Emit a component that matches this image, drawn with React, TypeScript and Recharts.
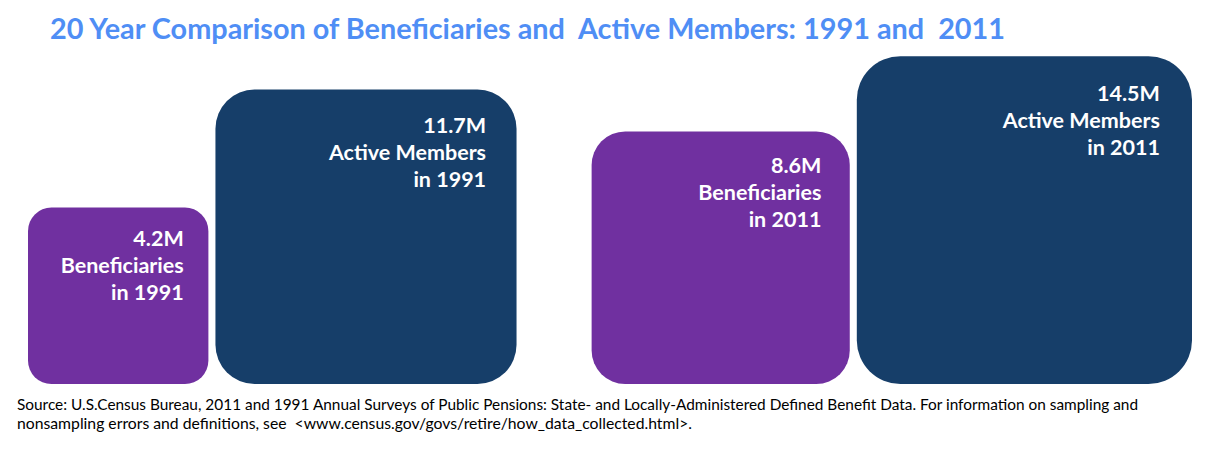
import * as React from "react"
import { ScatterChart, Scatter, XAxis, YAxis, ZAxis } from "recharts"

// values in millions
const values = [4.2, 11.7, 8.6, 14.5]
const valueLabels = ["4.2M", "11.7M", "8.6M", "14.5M"]
const groups = ["Beneficiaries", "Active Members", "Beneficiaries", "Active Members"]
const years = ["1991", "1991", "2011", "2011"]

const TITLE = "20 Year Comparison of Beneficiaries and  Active Members: 1991 and  2011"
const SOURCE_1 =
  "Source: U.S.Census Bureau, 2011 and 1991 Annual Surveys of Public Pensions: State- and Locally-Administered Defined Benefit Data. For information on sampling and"
const SOURCE_2 = "nonsampling errors and definitions, see  <www.census.gov/govs/retire/how_data_collected.html>."

const COLORS: Record<string, string> = {
  Beneficiaries: "#7030A0",
  "Active Members": "#163E69",
}

const W = 1226
const H = 476
const CHART_H = 400
const LEFT = 28
const RIGHT = 34
const BASELINE = 384
const GAP_PAIR = 0.08 // gap between tiles of the same year (sqrt units)
const GAP_YEAR = 0.853 // gap between the two years
const ASPECT = 0.978
const FONT = "Lato, 'Open Sans', sans-serif"

// each tile's side is proportional to sqrt(value); lay them out side by side
const sides = values.map((v) => Math.sqrt(v))
const data = (() => {
  let pos = 0
  return values.map((v, i) => {
    if (i > 0) pos += years[i] === years[i - 1] ? GAP_PAIR : GAP_YEAR
    const x = pos + sides[i] / 2
    pos += sides[i]
    return { x, y: 0, value: v, label: valueLabels[i], group: groups[i], year: years[i] }
  })
})()
const total = sides.reduce((a, b) => a + b, 0) + GAP_PAIR * 2 + GAP_YEAR
const maxV = Math.max(...values)
const pxPerUnit = (W - LEFT - RIGHT) / total
const maxArea = (Math.PI * pxPerUnit * pxPerUnit * maxV) / 4

const Tile = (props: any) => {
  const { cx, cy, width, payload } = props
  const w = width
  const h = w * ASPECT
  const x = cx - w / 2
  const y = cy - h
  const r = w * 0.13
  const tx = x + w - (16 + 0.048 * w)
  const ty = y + 29.5 + 0.047 * w
  return (
    <g>
      <rect x={x} y={y} width={w} height={h} rx={r} ry={r} fill={COLORS[payload.group]} />
      <text
        textAnchor="end"
        fill="#ffffff"
        fontFamily={FONT}
        fontWeight={700}
        fontSize={21.5}
      >
        <tspan x={tx} y={ty}>{payload.label}</tspan>
        <tspan x={tx} y={ty + 27}>{payload.group}</tspan>
        <tspan x={tx} y={ty + 54}>{`in ${payload.year}`}</tspan>
      </text>
    </g>
  )
}

export default function App() {
  return (
    <div style={{ position: "absolute", left: 0, top: 0, width: W, height: H, background: "#fff" }}>
      <ScatterChart
        width={W}
        height={CHART_H}
        margin={{ top: 0, right: RIGHT, left: LEFT, bottom: CHART_H - BASELINE }}
      >
        <XAxis type="number" dataKey="x" domain={[0, total]} hide />
        <YAxis type="number" dataKey="y" domain={[0, 1]} hide />
        <ZAxis type="number" dataKey="value" domain={[0, maxV]} range={[0, maxArea]} />
        <Scatter data={data} shape={<Tile />} isAnimationActive={false} />
      </ScatterChart>
      <svg
        width={W}
        height={H}
        style={{ position: "absolute", left: 0, top: 0, pointerEvents: "none" }}
      >
        <text
          x={50}
          y={39}
          fill="#4F8EF5"
          fontFamily={FONT}
          fontWeight={700}
          fontSize={28}
          textLength={955}
          lengthAdjust="spacingAndGlyphs"
          style={{ whiteSpace: "pre" }}
        >
          {TITLE}
        </text>
        <text
          x={17}
          y={410}
          fill="#000"
          fontFamily={FONT}
          fontSize={15}
          textLength={1121}
          lengthAdjust="spacingAndGlyphs"
        >
          {SOURCE_1}
        </text>
        <text
          x={17}
          y={429}
          fill="#000"
          fontFamily={FONT}
          fontSize={15}
          textLength={675}
          lengthAdjust="spacingAndGlyphs"
          style={{ whiteSpace: "pre" }}
        >
          {SOURCE_2}
        </text>
      </svg>
    </div>
  )
}
